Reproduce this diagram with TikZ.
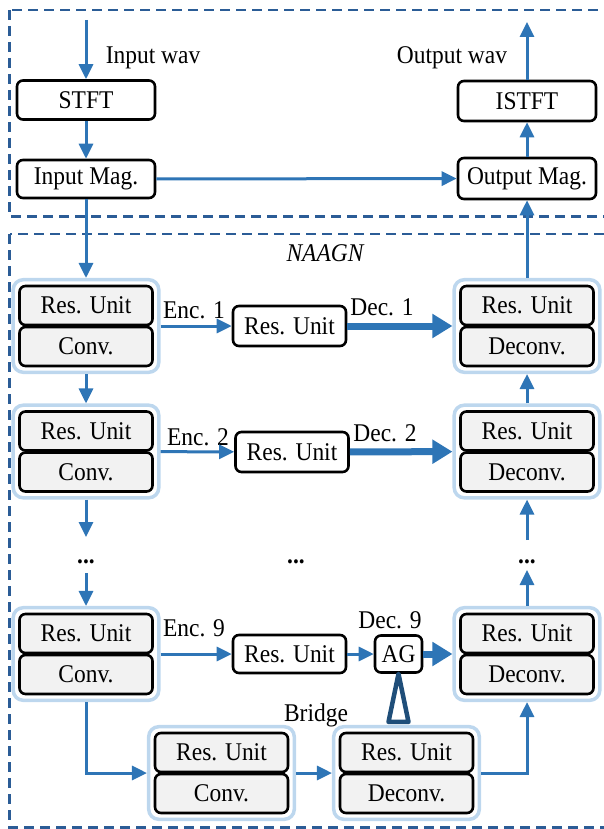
\documentclass[tikz,border=0pt]{standalone}
\usepackage{fontspec}
\setmainfont{Liberation Serif}[FakeStretch=0.92]
\usetikzlibrary{arrows.meta,fit}
\definecolor{ablue}{HTML}{2E75B6}
\definecolor{dblue}{HTML}{2B5C96}
\definecolor{lblue}{HTML}{BDD7EE}
\definecolor{tblue}{HTML}{1F4E79}
\definecolor{ingray}{HTML}{F2F2F2}
\begin{document}
\begin{tikzpicture}[x=1pt,y=-1pt,
  every node/.style={font=\fontsize{25.5}{30}\selectfont},
  box/.style={draw=black,line width=2.6pt,rounded corners=6pt,fill=white,inner sep=0pt,minimum height=39pt},
  inbox/.style={box,fill=ingray,minimum width=133pt},
  grp/.style={draw=lblue,line width=3.5pt,rounded corners=10pt,inner sep=5pt},
  arr/.style={draw=ablue,line width=3pt,-{Triangle[length=15pt,width=14pt]}},
  thk/.style={draw=ablue,line width=7pt,-{Triangle[length=20pt,width=23pt]}},
  dashbox/.style={draw=dblue,line width=2.2pt,dash pattern=on 10pt off 6pt},
  lab/.style={inner sep=0pt}]
\useasboundingbox (0,0) rectangle (603,829);
% dashed frames
\draw[dashbox] (9.5,10) rectangle (625,216.5);
\draw[dashbox] (9.5,234) rectangle (625,827.5);
% top part
\node[box,minimum width=138pt] (stft) at (86,100) {STFT};
\node[box,minimum width=138pt,minimum height=38pt] (imag) at (86,179) {Input Mag.};
\node[box,minimum width=138pt,minimum height=40pt] (istft) at (527,101) {ISTFT};
\node[box,minimum width=138pt,minimum height=41pt] (omag) at (527,178.5) {Output Mag.};
\coordinate (inw) at (86,20);
\coordinate (outw) at (527,22);
\node[lab] (inwl) at (153,58) {Input wav};
\node[lab] (outwl) at (452,58) {Output wav};
\node[lab] (naagn) at (325,253) {\itshape NAAGN};
% encoder groups
\node[inbox] (e1r) at (86,305.5) {Res. Unit};
\node[inbox] (e1c) at (86,346.5) {Conv.};
\node[grp,fit=(e1r)(e1c)] (e1) {};
\node[inbox] (e2r) at (86,431) {Res. Unit};
\node[inbox] (e2c) at (86,472) {Conv.};
\node[grp,fit=(e2r)(e2c)] (e2) {};
\node[inbox] (e9r) at (86,633.5) {Res. Unit};
\node[inbox] (e9c) at (86,674.5) {Conv.};
\node[grp,fit=(e9r)(e9c)] (e9) {};
% decoder groups
\node[inbox] (d1r) at (527,305.5) {Res. Unit};
\node[inbox] (d1c) at (527,346.5) {Deconv.};
\node[grp,fit=(d1r)(d1c)] (d1) {};
\node[inbox] (d2r) at (527,431) {Res. Unit};
\node[inbox] (d2c) at (527,472) {Deconv.};
\node[grp,fit=(d2r)(d2c)] (d2) {};
\node[inbox] (d9r) at (527,633.5) {Res. Unit};
\node[inbox] (d9c) at (527,674.5) {Deconv.};
\node[grp,fit=(d9r)(d9c)] (d9) {};
% middle res units
\node[box,minimum width=113pt,minimum height=40pt] (m1) at (289.5,326) {Res. Unit};
\node[box,minimum width=113pt,minimum height=40pt] (m2) at (292,452) {Res. Unit};
\node[box,minimum width=113pt,minimum height=38pt] (m9) at (289.5,654) {Res. Unit};
\node[box,minimum width=47pt,minimum height=37pt] (ag) at (398.5,654) {AG};
% bridge
\node[inbox] (b1r) at (221.5,752.5) {Res. Unit};
\node[inbox] (b1c) at (221.5,793.5) {Conv.};
\node[grp,fit=(b1r)(b1c)] (b1) {};
\node[inbox] (b2r) at (406.5,752.5) {Res. Unit};
\node[inbox] (b2c) at (406.5,793.5) {Deconv.};
\node[grp,fit=(b2r)(b2c)] (b2) {};
% labels
\node[lab] (enc1) at (194,310) {Enc. 1};
\node[lab] (dec1) at (382,307) {Dec. 1};
\node[lab] (enc2) at (198,437) {Enc. 2};
\node[lab] (dec2) at (385,433) {Dec. 2};
\node[lab] (enc9) at (194,628) {Enc. 9};
\node[lab] (dec9) at (390,620) {Dec. 9};
\node[lab] (bridge) at (316,715) {Bridge};
% dots
\node[lab] (ldots) at (86,562) {\textbf{...}};
\node[lab] (mdots) at (296,562) {\textbf{...}};
\node[lab] (rdots) at (527,562) {\textbf{...}};
\coordinate (ldt) at (86,537);
\coordinate (ldb) at (86,573);
\coordinate (rdt) at (527,540);
\coordinate (rdb) at (527,570);
% connectors top
\draw[arr] (inw) -- (stft.north);
\draw[arr] (stft) -- (imag);
\draw[arr] (imag) -- (omag);
\draw[arr] (omag) -- (istft);
\draw[arr] (istft) -- (outw);
\draw[arr] (imag) -- (e1);
\draw[arr] (d1) -- (omag);
% encoder chain
\draw[arr] (e1) -- (e2);
\draw[arr] (e2) -- (ldt);
\draw[arr] (ldb) -- (e9);
% skip connections
\draw[arr] (e1) -- (m1);
\draw[thk] (m1) -- (d1);
\draw[arr] (e2) -- (m2);
\draw[thk] (m2) -- (d2);
\draw[arr] (e9) -- (m9);
\draw[arr] (m9) -- (ag);
\draw[thk] (ag) -- (d9);
% decoder chain
\draw[arr] (d9) -- (rdb);
\draw[arr] (rdt) -- (d2);
\draw[arr] (d2) -- (d1);
% bridge
\draw[arr] (e9.south) |- (b1.west);
\draw[arr] (b1) -- (b2);
\draw[arr] (b2.east) -| (d9.south);
\draw[draw=tblue,line width=4.5pt,line join=round]
  (ag.south) -- ([xshift=-10pt,yshift=3pt]ag.south |- b2.north)
  -- ([xshift=10pt,yshift=3pt]ag.south |- b2.north) -- cycle;
\end{tikzpicture}
\end{document}
